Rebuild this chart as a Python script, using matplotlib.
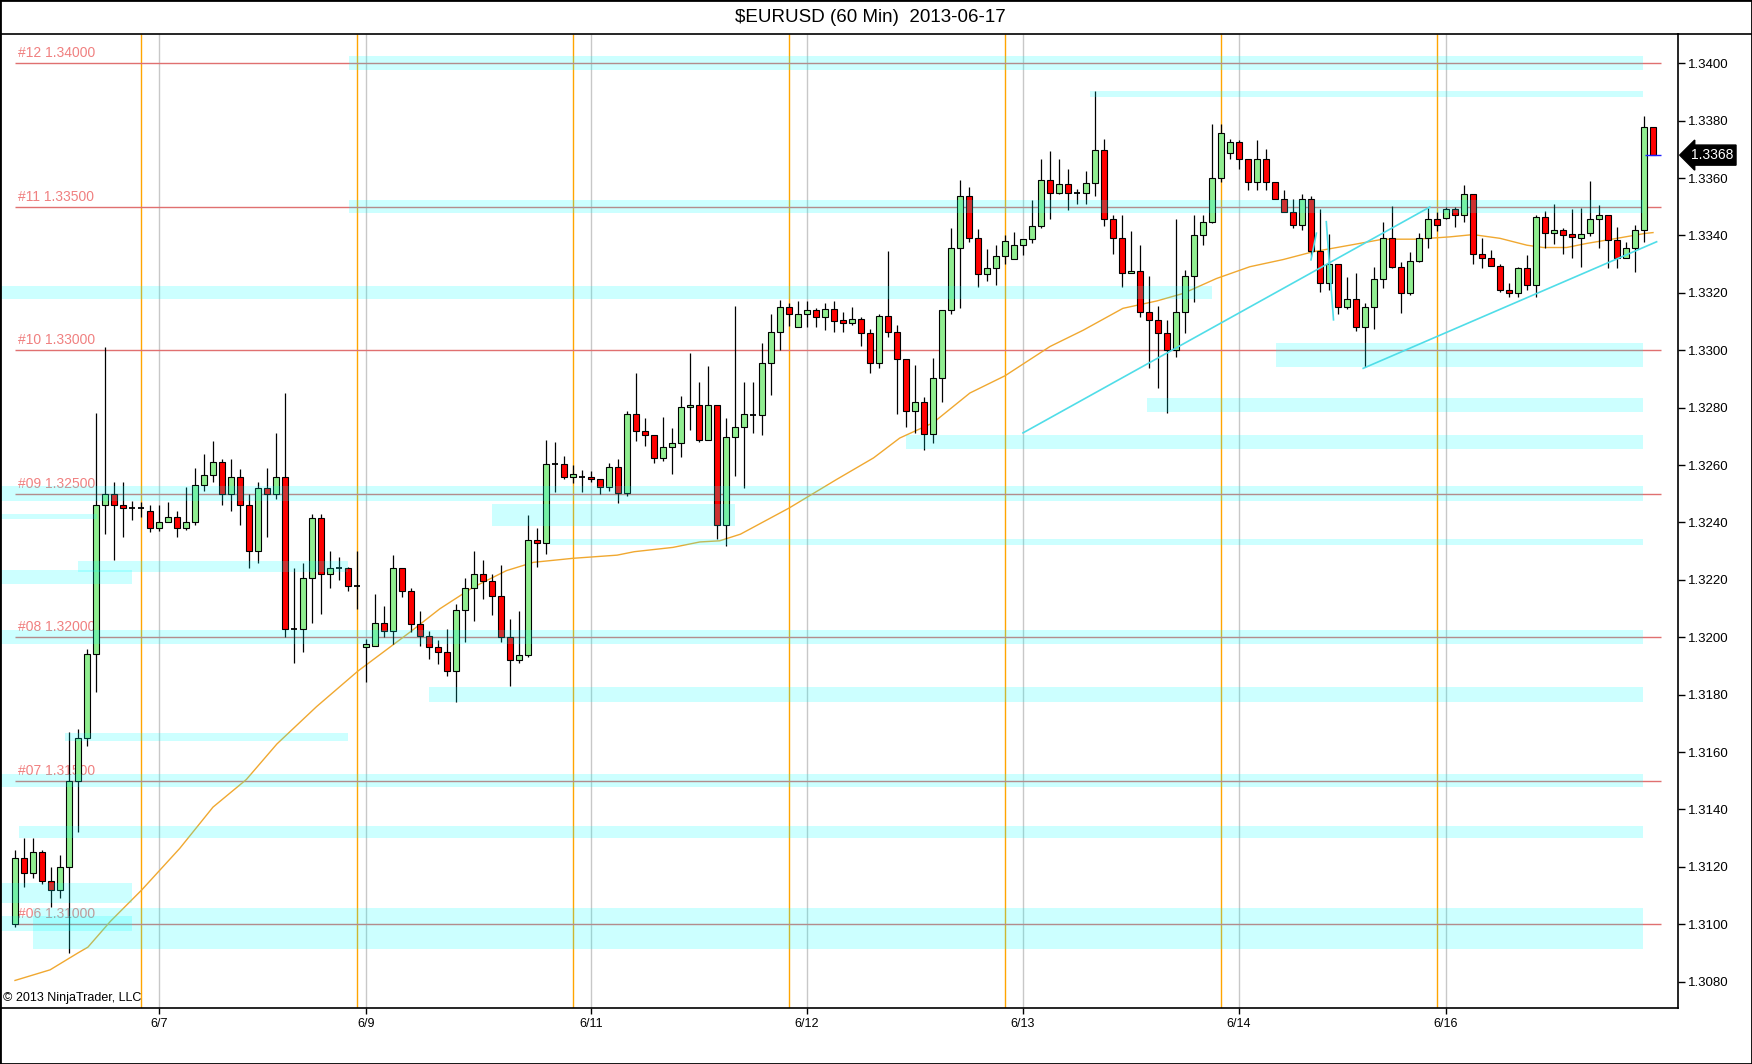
import numpy as np
from matplotlib import pyplot as plt
from matplotlib.lines import Line2D
from matplotlib.patches import Rectangle
from matplotlib.transforms import blended_transform_factory

plt.rcParams['font.family'] = ['Liberation Sans', 'DejaVu Sans']

# hourly EURUSD bars
opens = [1.3100, 1.3123, 1.3118, 1.3125, 1.3115, 1.3112, 1.3120, 1.3150, 1.3165, 1.3194,
         1.3246, 1.3250, 1.3246, 1.3245, 1.3245, 1.3244, 1.3238, 1.3240, 1.3242, 1.3238,
         1.3240, 1.3253, 1.32565, 1.3261, 1.3250, 1.3256, 1.3246, 1.3230, 1.3252, 1.3250,
         1.3256, 1.3203, 1.3203, 1.32205, 1.32415, 1.3222, 1.3224, 1.3224, 1.3218, 1.31966,
         1.3197, 1.3205, 1.3202, 1.3224, 1.3216, 1.32045, 1.32006, 1.31966, 1.31949, 1.31882,
         1.32095, 1.32171, 1.3222, 1.32195, 1.32143, 1.3200, 1.3192, 1.31937, 1.3234, 1.3233,
         1.32604, 1.32604, 1.32558, 1.32558, 1.32558, 1.3255, 1.32523, 1.32594, 1.32502, 1.32779,
         1.32717, 1.32703, 1.32625, 1.32662, 1.32677, 1.32802, 1.32809, 1.32686, 1.32809, 1.32391,
         1.32698, 1.32731, 1.32775, 1.32775, 1.32955, 1.33063, 1.33149, 1.33082, 1.33125, 1.33139,
         1.33117, 1.33142, 1.33105, 1.33094, 1.33108, 1.33059, 1.32955, 1.33119, 1.33063, 1.32969,
         1.32787, 1.3282, 1.32708, 1.32903, 1.33139, 1.33358, 1.33537, 1.33392, 1.33264, 1.33288,
         1.33329, 1.33319, 1.33368, 1.33389, 1.33433, 1.33594, 1.33549, 1.3358, 1.33549, 1.33549,
         1.33583, 1.33697, 1.33459, 1.3339, 1.33268, 1.33277, 1.33132, 1.33107, 1.33059, 1.3300,
         1.33132, 1.33258, 1.33401, 1.33448, 1.33599, 1.33689, 1.33724, 1.33665, 1.33585, 1.33665,
         1.33585, 1.33526, 1.3348, 1.33438, 1.33526, 1.33346, 1.33233, 1.3330, 1.33152, 1.33177,
         1.3308, 1.33149, 1.3325, 1.3339, 1.33289, 1.33198, 1.33312, 1.3339, 1.33459, 1.33462,
         1.33491, 1.33473, 1.33543, 1.33337, 1.33323, 1.33293, 1.33209, 1.33198, 1.33288, 1.33229,
         1.33463, 1.3341, 1.33419, 1.33405, 1.3339, 1.3341, 1.33456, 1.33473, 1.33384, 1.33323,
         1.33355, 1.33419, 1.33779]
highs = [1.3126, 1.3130, 1.3130, 1.3126, 1.3120, 1.3124, 1.3167, 1.3168, 1.3196, 1.3278,
         1.3301, 1.3254, 1.3254, 1.32475, 1.3247, 1.3246, 1.3246, 1.3247, 1.3244, 1.32525,
         1.3259, 1.3264, 1.32685, 1.3262, 1.3262, 1.32585, 1.3250, 1.3254, 1.3259, 1.3271,
         1.3285, 1.3224, 1.3226, 1.3243, 1.3243, 1.3230, 1.3228, 1.32245, 1.3230, 1.31995,
         1.3215, 1.3211, 1.32286, 1.3224, 1.3217, 1.32093, 1.3202, 1.3199, 1.3203, 1.32116,
         1.32205, 1.32301, 1.32269, 1.3222, 1.32251, 1.32064, 1.3209, 1.32425, 1.32382, 1.32688,
         1.3268, 1.32633, 1.3260, 1.32584, 1.3258, 1.3255, 1.32608, 1.3262, 1.32787, 1.3292,
         1.32764, 1.32703, 1.32767, 1.32729, 1.32839, 1.32989, 1.3289, 1.32945, 1.32809, 1.32764,
         1.33155, 1.32889, 1.32889, 1.33024, 1.33125, 1.33175, 1.33163, 1.33171, 1.33171, 1.33148,
         1.33163, 1.33171, 1.33134, 1.33149, 1.33117, 1.33073, 1.33128, 1.33345, 1.33088, 1.32969,
         1.32949, 1.32836, 1.32972, 1.33139, 1.33426, 1.33594, 1.33568, 1.33424, 1.33352, 1.33368,
         1.33403, 1.33412, 1.33389, 1.33524, 1.33667, 1.33693, 1.33667, 1.33632, 1.33563, 1.33626,
         1.33904, 1.33735, 1.33473, 1.33471, 1.33415, 1.33366, 1.33258, 1.33154, 1.33105, 1.33459,
         1.33279, 1.33473, 1.33473, 1.33788, 1.3379, 1.33735, 1.33732, 1.33665, 1.33732, 1.3370,
         1.33585, 1.33558, 1.33526, 1.33543, 1.33537, 1.33491, 1.33405, 1.3330, 1.33254, 1.33268,
         1.33163, 1.33291, 1.33448, 1.33502, 1.33308, 1.33343, 1.33409, 1.33494, 1.33483, 1.3350,
         1.3350, 1.33576, 1.33543, 1.3339, 1.33349, 1.33302, 1.33233, 1.33291, 1.33331, 1.33471,
         1.33485, 1.33509, 1.33427, 1.33491, 1.33497, 1.33591, 1.33506, 1.33473, 1.3343, 1.33378,
         1.33436, 1.33816, 1.33779]
lows = [1.3099, 1.3113, 1.3116, 1.3114, 1.3106, 1.3109, 1.3090, 1.3132, 1.3162, 1.3181,
        1.3236, 1.3227, 1.3235, 1.3241, 1.3242, 1.32365, 1.3237, 1.3240, 1.3235, 1.32375,
        1.3239, 1.3251, 1.3254, 1.3246, 1.3244, 1.3239, 1.3224, 1.3226, 1.3235, 1.3248,
        1.3200, 1.3191, 1.3195, 1.3205, 1.3208, 1.3217, 1.3220, 1.3216, 1.3210, 1.31845,
        1.3197, 1.3200, 1.31977, 1.3214, 1.32018, 1.3197, 1.31925, 1.31908, 1.31865, 1.31775,
        1.31983, 1.32058, 1.32134, 1.32076, 1.31983, 1.31831, 1.3191, 1.3193, 1.32243, 1.3229,
        1.32506, 1.3255, 1.32538, 1.32506, 1.3254, 1.32498, 1.3251, 1.32469, 1.32492, 1.32685,
        1.32668, 1.32608, 1.32613, 1.32569, 1.32628, 1.32721, 1.3268, 1.32686, 1.32342, 1.32318,
        1.32561, 1.3252, 1.3271, 1.32706, 1.32845, 1.33001, 1.33084, 1.3308, 1.33082, 1.33082,
        1.33071, 1.33063, 1.33063, 1.33088, 1.33016, 1.32922, 1.32938, 1.33047, 1.32778, 1.32731,
        1.32712, 1.32652, 1.32677, 1.32818, 1.33125, 1.33146, 1.33377, 1.33219, 1.33241, 1.33229,
        1.33302, 1.33319, 1.33333, 1.33374, 1.33427, 1.33458, 1.33545, 1.3349, 1.33508, 1.33508,
        1.33539, 1.33434, 1.33334, 1.33221, 1.33268, 1.33117, 1.32937, 1.32867, 1.32783, 1.32977,
        1.33061, 1.33169, 1.33366, 1.33442, 1.33587, 1.33666, 1.33631, 1.33558, 1.33558, 1.33558,
        1.33526, 1.3348, 1.33425, 1.33419, 1.33328, 1.33204, 1.3321, 1.33128, 1.33142, 1.33068,
        1.3294, 1.33073, 1.33218, 1.33285, 1.33131, 1.33192, 1.33308, 1.33357, 1.33416, 1.33456,
        1.33428, 1.33448, 1.3330, 1.33288, 1.33293, 1.33203, 1.33186, 1.33184, 1.33209, 1.33186,
        1.33355, 1.33369, 1.33337, 1.33323, 1.33291, 1.33399, 1.33357, 1.33288, 1.33288, 1.33323,
        1.33273, 1.33378, 1.3368]
closes = [1.3123, 1.3118, 1.3125, 1.3115, 1.3112, 1.3120, 1.3150, 1.3165, 1.3194, 1.3246,
          1.3250, 1.3246, 1.3245, 1.3245, 1.3245, 1.3238, 1.3240, 1.3242, 1.3238, 1.3240,
          1.3253, 1.32565, 1.3261, 1.3250, 1.3256, 1.3246, 1.3230, 1.3252, 1.3250, 1.3256,
          1.3203, 1.3203, 1.32205, 1.32415, 1.3222, 1.3224, 1.3224, 1.3218, 1.3218, 1.31975,
          1.3205, 1.3202, 1.3224, 1.3216, 1.32045, 1.32006, 1.31966, 1.31949, 1.31882, 1.32095,
          1.32171, 1.3222, 1.32195, 1.32143, 1.3200, 1.3192, 1.31937, 1.3234, 1.3233, 1.32604,
          1.32604, 1.32558, 1.32569, 1.32558, 1.3255, 1.32523, 1.32594, 1.32502, 1.32779, 1.32717,
          1.32703, 1.32625, 1.32662, 1.32677, 1.32802, 1.32809, 1.32686, 1.32809, 1.32391, 1.32698,
          1.32731, 1.32778, 1.32775, 1.32955, 1.33063, 1.33149, 1.33125, 1.33125, 1.33139, 1.33117,
          1.33142, 1.33103, 1.33094, 1.33108, 1.33059, 1.32955, 1.33119, 1.33063, 1.32969, 1.32787,
          1.3282, 1.32708, 1.32903, 1.33139, 1.33358, 1.33537, 1.33392, 1.33264, 1.33288, 1.33329,
          1.3338, 1.33368, 1.33389, 1.33433, 1.33594, 1.33549, 1.3358, 1.33549, 1.33549, 1.33583,
          1.33697, 1.33459, 1.3339, 1.33268, 1.33277, 1.33132, 1.33107, 1.33059, 1.3300, 1.33132,
          1.33258, 1.33401, 1.33448, 1.33599, 1.33756, 1.33724, 1.33665, 1.33585, 1.33665, 1.33585,
          1.33526, 1.3348, 1.33438, 1.33526, 1.33346, 1.33233, 1.3330, 1.33152, 1.33177, 1.3308,
          1.33149, 1.3325, 1.3339, 1.33289, 1.33198, 1.33312, 1.3339, 1.33459, 1.33438, 1.33491,
          1.33473, 1.33543, 1.33337, 1.33323, 1.33293, 1.33209, 1.33198, 1.33288, 1.33229, 1.33463,
          1.3341, 1.33419, 1.33403, 1.33393, 1.33405, 1.33456, 1.33473, 1.33384, 1.33323, 1.33355,
          1.33419, 1.33779, 1.3368]

# moving average (orange), sampled along the curve
ma_x = [0, 3.9, 7.0, 8.1, 10.6, 14.1, 18.3, 22.0, 25.7, 29.1,
        33.5, 38.1, 43.9, 47.2, 50.9, 54.6, 57.6, 62.0, 66.9, 68.8,
        73.1, 76.1, 78.3, 80.6, 86, 91.3, 95.4, 98.3, 102, 106.1,
        110, 115, 118.7, 123.1, 126.9, 129.8, 133.5, 137.2, 140.9, 144.2,
        148.3, 152, 155.7, 159.4, 162, 165, 168, 169.8, 172.4, 174.6,
        178, 181.1, 182]
ma_y = [1.30804, 1.30841, 1.3090, 1.3092, 1.3101, 1.3112, 1.31264, 1.31408, 1.31504, 1.31628,
        1.31758, 1.31882, 1.32018, 1.32099, 1.32174, 1.32232, 1.32261, 1.32275, 1.32286, 1.32298,
        1.32313, 1.32332, 1.32336, 1.32359, 1.3245, 1.3255, 1.32625, 1.32694, 1.32747, 1.32851,
        1.32911, 1.33013, 1.3307, 1.33146, 1.33172, 1.33198, 1.3325, 1.33291, 1.33316, 1.33343,
        1.33366, 1.33387, 1.33387, 1.33395, 1.33403, 1.3339, 1.33366, 1.33358, 1.33358, 1.33372,
        1.3339, 1.33407, 1.3341]

# pivot levels
level_prices = [1.340, 1.335, 1.330, 1.325, 1.320, 1.315, 1.310]
level_names = ['#12 1.34000', '#11 1.33500', '#10 1.33000', '#09 1.32500',
               '#08 1.32000', '#07 1.31500', '#06 1.31000']

# supply/demand zones (bar index start/end, price low/high)
zone_start = [37.1, 119.4, 37.1, -1.7, 140.1, 125.8, 99.0, -1.7, -1.7, 53.0,
              59.4, 7.0, -1.7, -1.7, 46.0, 5.6, -1.7, 0.4, -1.7, -1.7, 2.0]
zone_end = [180.9, 180.9, 180.9, 133.0, 180.9, 180.9, 180.9, 180.9, 9.1, 80.0,
            180.9, 37.0, 13.0, 180.9, 180.9, 37.0, 180.9, 180.9, 13.0, 13.0, 180.9]
zone_lo = [1.33978, 1.33882, 1.33477, 1.33178, 1.32941, 1.32784, 1.32655, 1.32475, 1.32411, 1.32388,
           1.32321, 1.32227, 1.32186, 1.31975, 1.31775, 1.31640, 1.31477, 1.31302, 1.31074, 1.30978, 1.30913]
zone_hi = [1.34025, 1.33905, 1.33525, 1.33224, 1.33024, 1.32833, 1.32705, 1.32527, 1.32431, 1.32463,
           1.32344, 1.32265, 1.32235, 1.32026, 1.31827, 1.31665, 1.31525, 1.31342, 1.31143, 1.31027, 1.31058]

# trend lines (bar index, price)
trend_x = [[112, 157.2], [149.8, 182.4], [144.0, 144.6], [145.7, 146.5]]
trend_y = [[1.32712, 1.33499], [1.32937, 1.33378], [1.33315, 1.33408], [1.33448, 1.33106]]

session_breaks = [14, 38, 62, 86, 110, 134, 158]
day_ticks = [16, 39, 64, 88, 112, 136, 159]
day_labels = ['6/7', '6/9', '6/11', '6/12', '6/13', '6/14', '6/16']
price_ticks = [1.3080, 1.3100, 1.3120, 1.3140, 1.3160, 1.3180, 1.3200, 1.3220, 1.3240,
               1.3260, 1.3280, 1.3300, 1.3320, 1.3340, 1.3360, 1.3380, 1.3400]
last_price = 1.3368

W, H = 1752, 1064
fig = plt.figure(figsize=(W / 100, H / 100), dpi=100)
ax = fig.add_axes([0, 1 - 1008 / H, 1678 / W, 974 / H])

o = np.array(opens)
hi = np.array(highs)
lo = np.array(lows)
c = np.array(closes)
idx = np.arange(len(o))
up = c > o
dn = c < o
flat = c == o

y0, y1 = 1.30708, 1.34102
ax.vlines(session_breaks, y0, y1, color='#ffa500', lw=1, zorder=1)
ax.vlines(day_ticks, y0, y1, color='#c8c8c8', lw=1, zorder=1)
ax.hlines(level_prices, 0, 182.9, color='#e07070', lw=1, zorder=1)
for p, name in zip(level_prices, level_names):
    ax.annotate(name, (0.3, p), xytext=(0, 2), textcoords='offset points',
                color='#f08080', fontsize=10, va='bottom', ha='left', zorder=2)

ax.plot(ma_x, ma_y, color='#f0a830', lw=1, zorder=2)

ax.vlines(idx, lo, hi, color='black', lw=0.9, zorder=3)
ax.bar(idx[up], (c - o)[up], 0.7, bottom=o[up], color='#90ee90', edgecolor='black', lw=0.8, zorder=4)
ax.bar(idx[dn], (o - c)[dn], 0.7, bottom=c[dn], color='#ff0000', edgecolor='black', lw=0.8, zorder=4)
ax.hlines(o[flat], idx[flat] - 0.38, idx[flat] + 0.38, color='black', lw=1.3, zorder=4)

ax.bar(zone_start, np.array(zone_hi) - np.array(zone_lo), np.array(zone_end) - np.array(zone_start),
       bottom=zone_lo, align='edge', color='#00ffff', alpha=0.2, lw=0, zorder=5)

for tx, ty in zip(trend_x, trend_y):
    ax.plot(tx, ty, color='#50dde8', lw=1.2, zorder=6)

ax.hlines(last_price, 181.1, 182.9, color='#2020ff', lw=1, zorder=6)

ax.set_xlim(-15 / 9, (1678 - 15) / 9)
ax.set_ylim(y0, y1)
ax.yaxis.tick_right()
ax.set_yticks(price_ticks)
ax.set_yticklabels(['%.4f' % t for t in price_ticks])
ax.set_xticks(day_ticks)
ax.set_xticklabels(day_labels)
ax.tick_params(axis='y', direction='out', length=5, width=1, labelsize=9.5, pad=2)
ax.tick_params(axis='x', direction='out', length=4, width=1, labelsize=9, pad=3)
for s in ax.spines.values():
    s.set_color('black')
    s.set_linewidth(1.2)

tr = blended_transform_factory(ax.transAxes, ax.transData)
ax.text(1.0075, last_price, '%.4f' % last_price, transform=tr, color='white', fontsize=10,
        va='center', ha='left', clip_on=False, zorder=7,
        bbox=dict(boxstyle='larrow,pad=0.22', fc='black', ec='black'))

ax.text(0.002, 0.004, '\u00a9 2013 NinjaTrader, LLC', transform=ax.transAxes,
        fontsize=9, va='bottom', ha='left', color='black')

fig.text(870 / W, 1 - 17 / H, r'\$EURUSD (60 Min)  2013-06-17', ha='center', va='center', fontsize=13.5)
fig.add_artist(Line2D([1678 / W, 1], [1 - 34 / H, 1 - 34 / H], color='black', lw=1.2, transform=fig.transFigure))
fig.add_artist(Rectangle((0, 0), 1, 1, fill=False, ec='black', lw=2, transform=fig.transFigure))

fig.savefig('out.png', dpi=100)
